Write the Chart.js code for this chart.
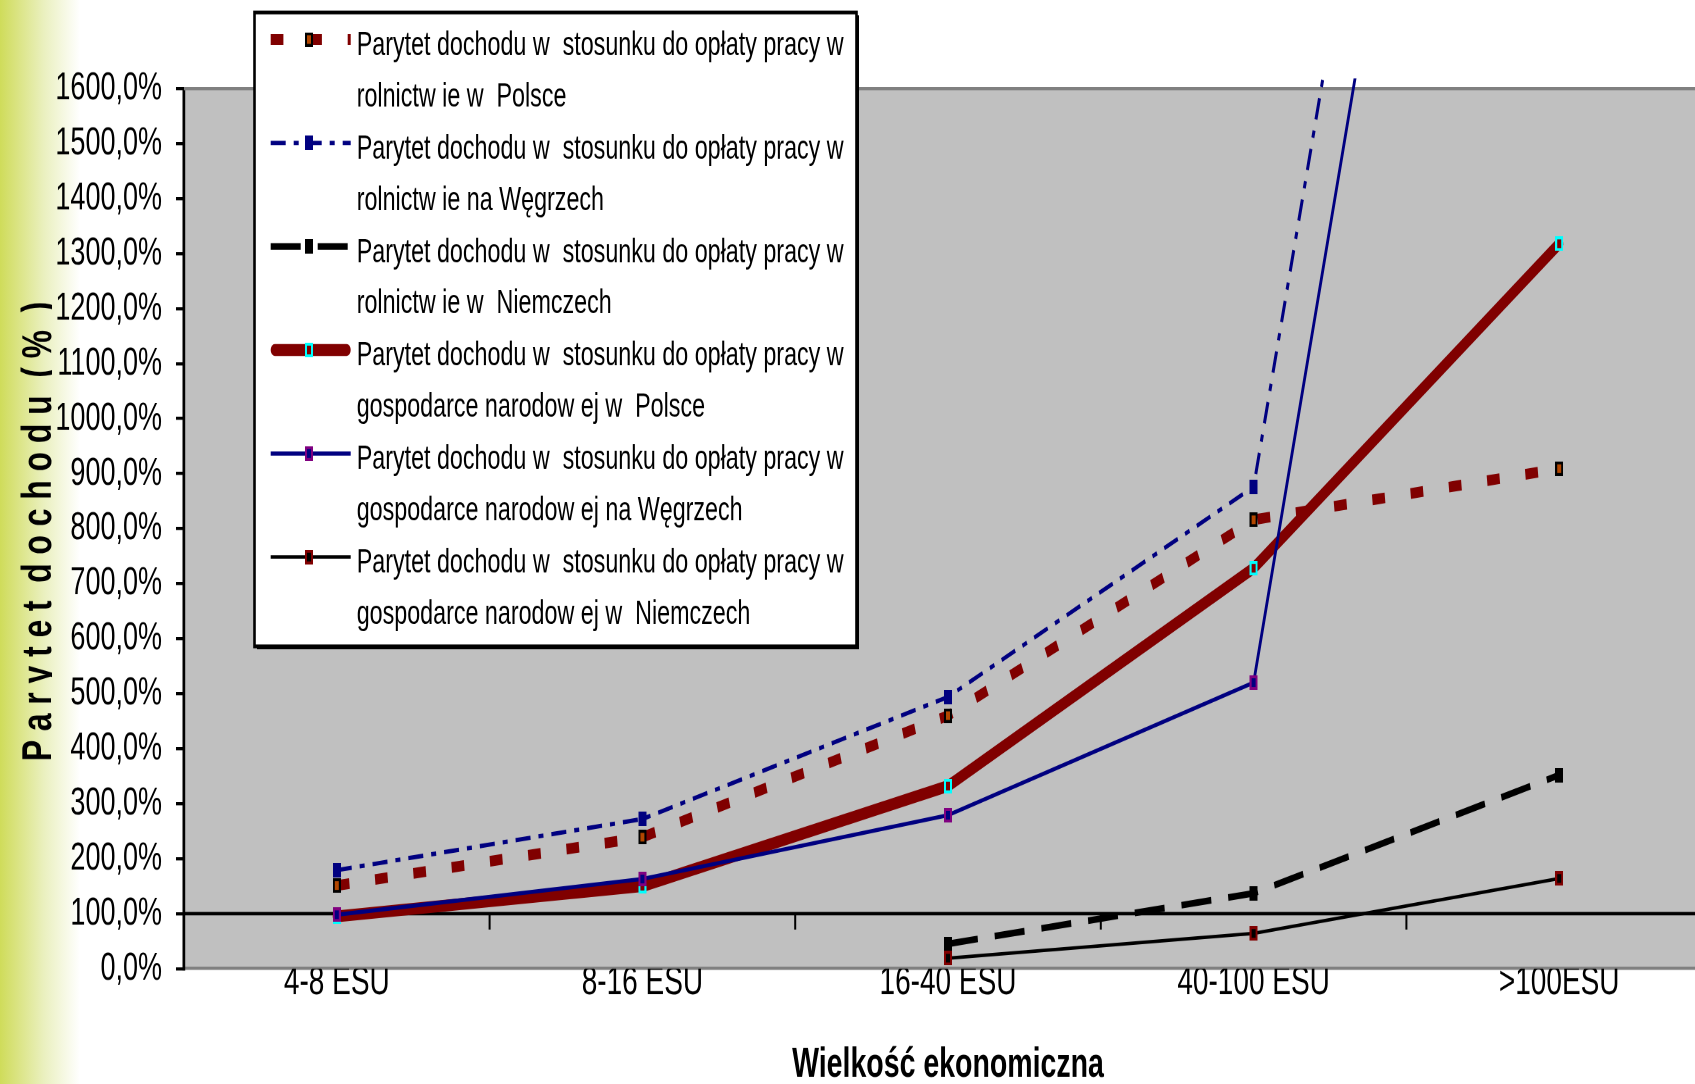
<!DOCTYPE html>
<html lang="pl">
<head>
<meta charset="utf-8">
<title>Parytet dochodu a wielkość ekonomiczna gospodarstw</title>
<script src="https://cdn.jsdelivr.net/npm/chart.js@4.4.1/dist/chart.umd.min.js"></script>
<style>
  html, body { margin: 0; padding: 0; }
  body {
    width: 1695px; height: 1084px; overflow: hidden; position: relative;
    background: linear-gradient(to right, #cfdc5a 0px, #d8e27a 14px, #eaf0bf 44px, #ffffff 80px);
  }
  #stage { position: absolute; left: 0; top: 0; width: 1730px; height: 748px; transform-origin: 0 0; }
  #chart { display: block; }
</style>
</head>
<body>
<div id="stage"><canvas id="chart" width="1730" height="748"></canvas></div>
<script>
// ---- data -------------------------------------------------------------
const categories = ['4-8 ESU', '8-16 ESU', '16-40 ESU', '40-100 ESU', '>100ESU'];

const agriPoland     = [151, 239, 460, 816, 909];
const agriHungary    = [179, 272, 494, 876, 4150];
const agriGermany    = [null, null, 45, 137, 352];
const economyPoland  = [95, 150, 332, 728, 1318];
const economyHungary = [98, 163, 279, 520, 3830];
const economyGermany = [null, null, 19, 64, 164];

const yTickLabels = ['0,0%', '100,0%', '200,0%', '300,0%', '400,0%', '500,0%', '600,0%',
  '700,0%', '800,0%', '900,0%', '1000,0%', '1100,0%', '1200,0%', '1300,0%', '1400,0%',
  '1500,0%', '1600,0%'];
const parityLevel = 100;

const seriesNames = [
  ['Parytet dochodu w  stosunku do opłaty pracy w', 'rolnictw ie w  Polsce'],
  ['Parytet dochodu w  stosunku do opłaty pracy w', 'rolnictw ie na Węgrzech'],
  ['Parytet dochodu w  stosunku do opłaty pracy w', 'rolnictw ie w  Niemczech'],
  ['Parytet dochodu w  stosunku do opłaty pracy w', 'gospodarce narodow ej w  Polsce'],
  ['Parytet dochodu w  stosunku do opłaty pracy w', 'gospodarce narodow ej na Węgrzech'],
  ['Parytet dochodu w  stosunku do opłaty pracy w', 'gospodarce narodow ej w  Niemczech']
];
const yTitle = 'P a r y t e t  d o c h o d u  ( %  )';
const xTitle = 'Wielkość ekonomiczna';

// ---- appearance -------------------------------------------------------
// The drawing is laid out in a squat canvas and stretched vertically.
const STRETCH = 1084 / 748;
document.getElementById('stage').style.transform = 'scaleY(' + STRETCH + ')';
const FONT = '"Liberation Sans", Arial, Helvetica, sans-serif';

const seriesStyles = [
  { color: '#800000', width: 7.4, dash: [12.7, 25.8], cap: 'butt',  edge: '#000000', fill: '#b34700' },
  { color: '#000080', width: 3.0, dash: [15, 8, 5, 8], cap: 'butt', edge: '#000080', fill: '#000080' },
  { color: '#000000', width: 4.6, dash: [30, 17],      cap: 'butt', edge: '#000000', fill: '#000000' },
  { color: '#800000', width: 8.2, dash: [],            cap: 'round', edge: '#00ffff', fill: '#800000' },
  { color: '#000080', width: 2.8, dash: [],            cap: 'butt', edge: '#800080', fill: '#000080' },
  { color: '#000000', width: 2.4, dash: [],            cap: 'butt', edge: '#800000', fill: '#000000' }
];
const seriesData = [agriPoland, agriHungary, agriGermany, economyPoland, economyHungary, economyGermany];

// small rectangular markers with a coloured rim, rendered at 4x for sharpness
function makeMarker(edge, fill) {
  const q = 4, w = 8, h = 10, rim = 2;
  const c = document.createElement('canvas');
  c.width = w * q; c.height = h * q;
  const g = c.getContext('2d');
  g.fillStyle = edge; g.fillRect(0, 0, w * q, h * q);
  g.fillStyle = fill; g.fillRect(rim * q, rim * q, (w - 2 * rim) * q, (h - 2 * rim) * q);
  const img = new Image(w, h);
  img.src = c.toDataURL();
  return img;
}
const markers = seriesStyles.map(s => makeMarker(s.edge, s.fill));

// ---- plugins ----------------------------------------------------------
const plotFrame = {
  id: 'plotFrame',
  beforeDraw(chart) {
    const { ctx, chartArea: a } = chart;
    ctx.save();
    ctx.fillStyle = '#c0c0c0';
    ctx.fillRect(a.left, a.top, a.right - a.left, a.bottom - a.top);
    ctx.restore();
  },
  beforeDatasetsDraw(chart) {
    const { ctx, chartArea: a, scales: { x, y } } = chart;
    ctx.save();
    ctx.strokeStyle = '#808080';
    ctx.lineWidth = 2.3;
    ctx.beginPath(); ctx.moveTo(a.left, a.top); ctx.lineTo(a.right, a.top); ctx.stroke();
    // category axis crossing the value axis at 100%
    const yRef = y.getPixelForValue(parityLevel);
    ctx.strokeStyle = '#000000';
    ctx.lineWidth = 2.3;
    ctx.beginPath(); ctx.moveTo(a.left, yRef); ctx.lineTo(a.right, yRef); ctx.stroke();
    ctx.lineWidth = 2;
    for (let i = 0; i < categories.length - 1; i++) {
      const bx = (x.getPixelForValue(i) + x.getPixelForValue(i + 1)) / 2;
      ctx.beginPath(); ctx.moveTo(bx, yRef); ctx.lineTo(bx, yRef + 11); ctx.stroke();
    }
    ctx.restore();
  }
};

const seriesKey = {
  id: 'seriesKey',
  afterDraw(chart) {
    const ctx = chart.ctx;
    const box = { left: 254.5, top: 8.6, right: 856.5, bottom: 446 };
    ctx.save();
    ctx.fillStyle = '#000000';
    ctx.fillRect(box.left + 2.5, box.top + 2, box.right - box.left, box.bottom - box.top);
    ctx.fillStyle = '#ffffff';
    ctx.fillRect(box.left, box.top, box.right - box.left, box.bottom - box.top);
    ctx.strokeStyle = '#000000';
    ctx.lineWidth = 2.6;
    ctx.strokeRect(box.left, box.top, box.right - box.left, box.bottom - box.top);

    const x0 = 270.7, x1 = 350.7, xm = 309, xt = 356.7;
    ctx.font = '23.3px ' + FONT;
    ctx.textAlign = 'left';
    ctx.textBaseline = 'alphabetic';
    seriesNames.forEach((lines, i) => {
      const base = 37.95 + 71.42 * i;
      const ys = base - 10.7;
      const s = seriesStyles[i];
      ctx.save();
      ctx.strokeStyle = s.color;
      ctx.lineWidth = s.width;
      ctx.lineCap = s.cap;
      ctx.setLineDash(s.dash);
      const inset = s.cap === 'round' ? s.width / 2 : 0;
      ctx.beginPath(); ctx.moveTo(x0 + inset, ys); ctx.lineTo(x1 - inset, ys); ctx.stroke();
      ctx.restore();
      ctx.drawImage(markers[i], xm - 4, ys - 5, 8, 10);
      ctx.fillStyle = '#000000';
      ctx.fillText(lines[0], xt, base);
      ctx.fillText(lines[1], xt, base + 35.4);
    });
    ctx.restore();
  }
};

const valueTitle = {
  id: 'valueTitle',
  afterDraw(chart) {
    const { ctx, chartArea: a } = chart;
    const baseX = 51;
    const midY = (a.top + a.bottom) / 2 + 2;
    const span = 317;
    ctx.save();
    ctx.beginPath(); ctx.rect(0, 0, baseX + 1, chart.height); ctx.clip();
    ctx.translate(baseX, midY);
    ctx.rotate(-Math.PI / 2);
    ctx.font = 'bold 42px ' + FONT;
    const w = ctx.measureText(yTitle).width;
    ctx.scale(span / w, 1);
    ctx.fillStyle = '#000000';
    ctx.textAlign = 'center';
    ctx.textBaseline = 'alphabetic';
    ctx.fillText(yTitle, 0, 0);
    ctx.restore();
  }
};

// ---- chart ------------------------------------------------------------
function build() {
  const datasets = seriesData.map((data, i) => {
    const s = seriesStyles[i];
    return {
      label: seriesNames[i].join(' '),
      data: data,
      borderColor: s.color,
      backgroundColor: s.color,
      borderWidth: s.width,
      borderDash: s.dash,
      borderCapStyle: s.cap,
      borderJoinStyle: s.cap === 'round' ? 'round' : 'miter',
      pointStyle: markers[i],
      pointRadius: 5,
      pointHoverRadius: 5,
      pointBorderWidth: 0,
      tension: 0,
      spanGaps: false,
      fill: false,
      order: seriesData.length - i,
      clip: { left: 10, top: 7, right: 10, bottom: 10 }
    };
  });

  new Chart(document.getElementById('chart'), {
    type: 'line',
    data: { labels: categories, datasets: datasets },
    options: {
      responsive: false,
      animation: false,
      devicePixelRatio: 2,
      events: [],
      layout: { padding: { top: 88.6 / STRETCH, right: 18, bottom: 0, left: 0 } },
      plugins: { legend: { display: false }, tooltip: { enabled: false }, title: { display: false } },
      scales: {
        x: {
          type: 'category',
          offset: true,
          grid: { display: false, drawTicks: false },
          border: { display: true, color: '#808080', width: 2.3 },
          ticks: {
            autoSkip: false, maxRotation: 0, minRotation: 0,
            color: '#000000', padding: -6.9,
            font: { family: FONT, size: 28 }
          },
          title: {
            display: true, text: xTitle, color: '#000000',
            font: { family: FONT, size: 28.5, weight: 'bold' },
            padding: { top: 0, bottom: -4.4 }
          },
          afterFit(scale) { scale.height = 748 - 968.6 / STRETCH; }
        },
        y: {
          min: 0, max: 1600,
          grid: { display: true, drawOnChartArea: false, drawTicks: true, tickLength: 8, color: '#000000', lineWidth: 2.2 },
          border: { display: true, color: '#000000', width: 2.7 },
          ticks: {
            stepSize: 100, autoSkip: false, color: '#000000', padding: 14,
            font: { family: FONT, size: 27 },
            callback: (value) => yTickLabels[Math.round(value / 100)]
          },
          afterFit(scale) { scale.width = 184; }
        }
      }
    },
    plugins: [plotFrame, seriesKey, valueTitle]
  });
}

Promise.all(markers.map(m => (m.decode ? m.decode() : new Promise(r => { m.onload = r; })).catch(() => {})))
  .then(build);
</script>
</body>
</html>
